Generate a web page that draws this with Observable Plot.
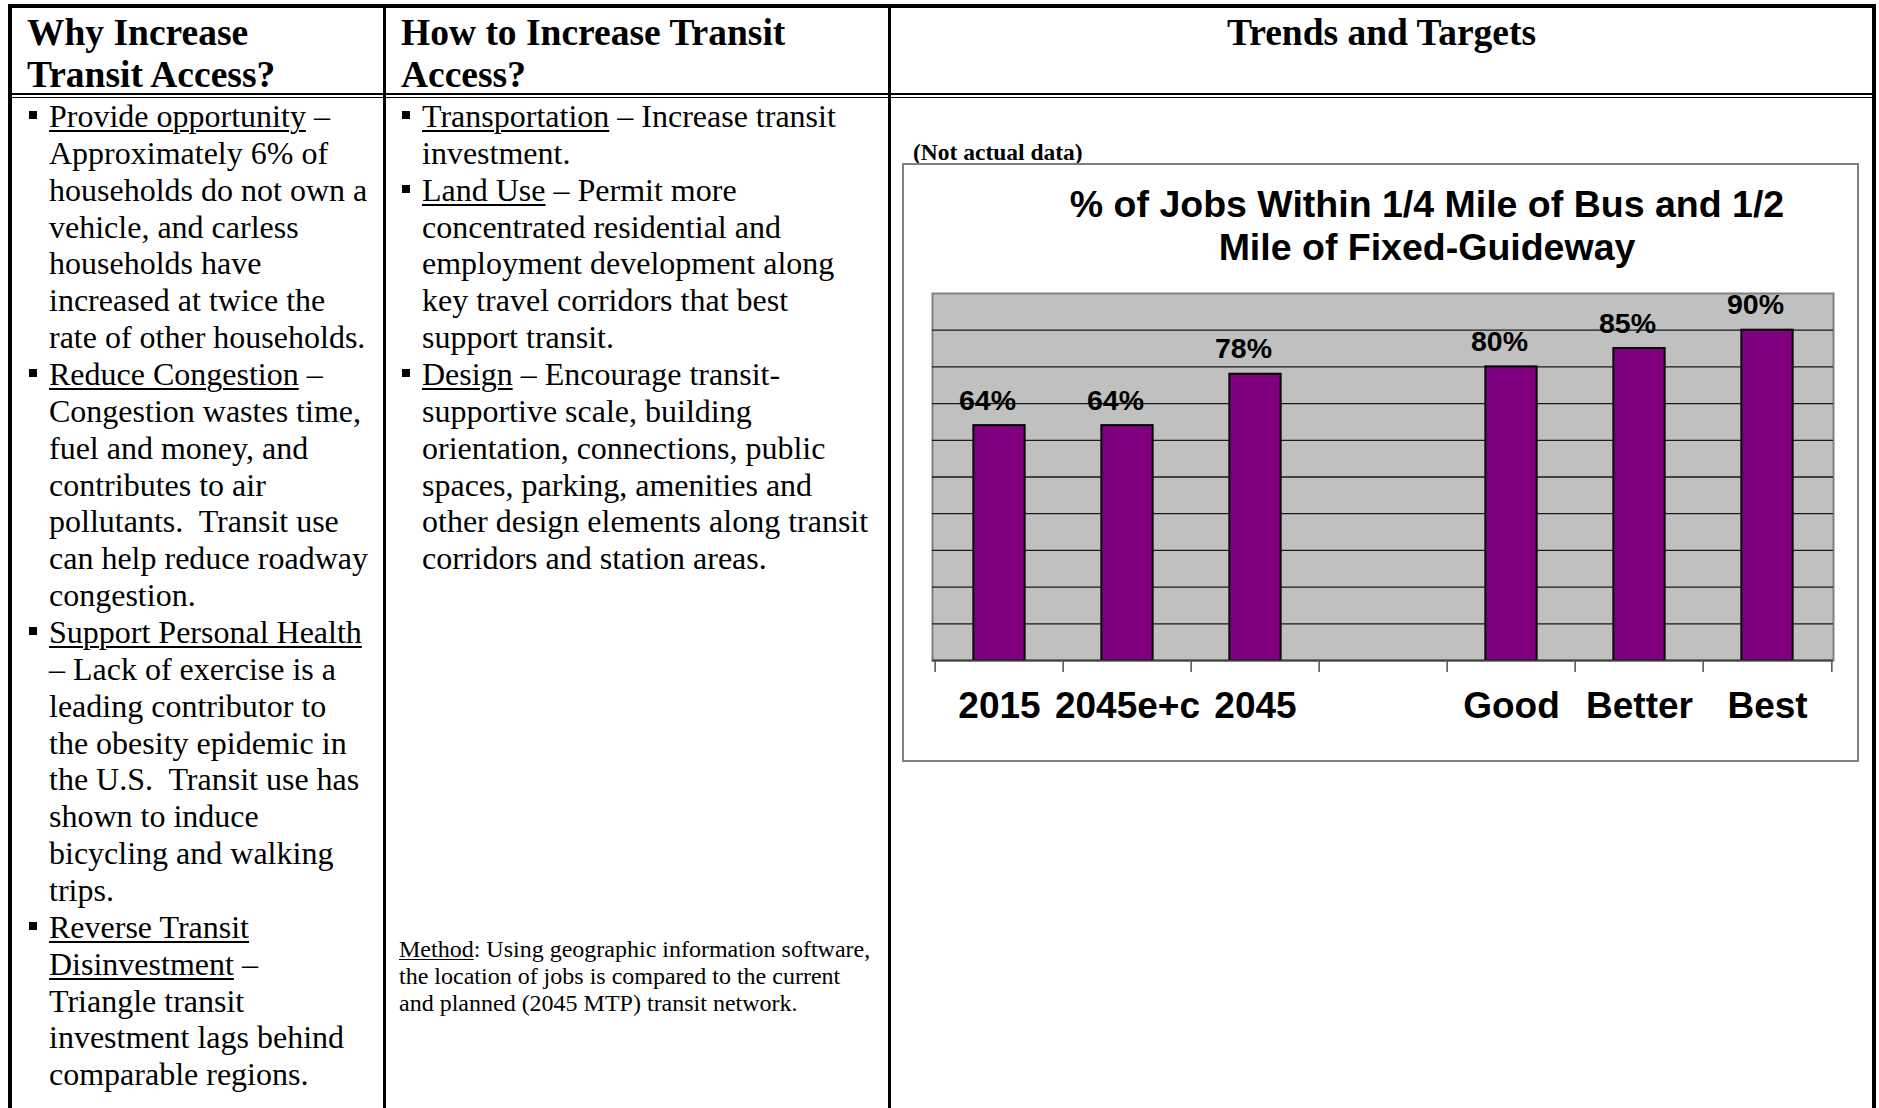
<!DOCTYPE html>
<html><head><meta charset="utf-8">
<script src="https://cdn.jsdelivr.net/npm/d3@7"></script>
<script src="https://cdn.jsdelivr.net/npm/@observablehq/plot@0.6"></script>
<style>
html,body{margin:0;padding:0;background:#fff;}
#page{position:relative;width:1879px;height:1108px;overflow:hidden;font-family:"Liberation Serif","Times New Roman",serif;color:#000;}
.rule{position:absolute;background:#000;}
.hdr{position:absolute;font-weight:bold;font-size:37.5px;line-height:42px;white-space:pre;}
.col{position:absolute;font-size:32px;line-height:36.86px;}
.col .ln{position:relative;height:36.86px;white-space:pre;}
.b{position:absolute;width:8px;height:8px;background:#000;top:13px;left:-20px;}
u{text-decoration:underline;text-decoration-thickness:1.6px;text-underline-offset:3px;}
#method{position:absolute;left:399px;top:935.5px;font-size:24px;line-height:27px;white-space:pre;}
#method u{text-decoration-thickness:1.2px;text-underline-offset:2px;}
#nad{position:absolute;left:913px;top:138.5px;font-size:23.5px;line-height:27px;font-weight:bold;white-space:pre;}
#box{position:absolute;left:902px;top:163px;width:957px;height:599px;border:2px solid #808080;box-sizing:border-box;}
#ctitle{position:absolute;left:1027px;width:800px;top:183px;text-align:center;font-family:"Liberation Sans",Arial,sans-serif;font-weight:bold;font-size:37.5px;line-height:43px;white-space:pre;}
#chart{position:absolute;left:904px;top:275px;}
</style>
</head><body>
<div id="page">
  <div class="rule" style="left:8px;top:4px;width:1868px;height:3.5px"></div>
  <div class="rule" style="left:8px;top:4px;width:4px;height:1110px"></div>
  <div class="rule" style="left:1872px;top:4px;width:4px;height:1110px"></div>
  <div class="rule" style="left:383px;top:4px;width:2.7px;height:1110px"></div>
  <div class="rule" style="left:888px;top:4px;width:2.7px;height:1110px"></div>
  <div class="rule" style="left:8px;top:93px;width:1868px;height:1.7px"></div>
  <div class="rule" style="left:8px;top:96.5px;width:1868px;height:1.7px"></div>

  <div class="hdr" style="left:27px;top:11.8px">Why Increase
Transit Access?</div>
  <div class="hdr" style="left:401px;top:11.8px">How to Increase Transit
Access?</div>
  <div class="hdr" style="left:890px;width:983px;top:11.8px;text-align:center">Trends and Targets</div>

  <div class="col" style="left:49px;top:98px"><div class="ln"><span class="b"></span><u>Provide opportunity</u> –</div><div class="ln">Approximately 6% of</div><div class="ln">households do not own a</div><div class="ln">vehicle, and carless</div><div class="ln">households have</div><div class="ln">increased at twice the</div><div class="ln">rate of other households.</div><div class="ln"><span class="b"></span><u>Reduce Congestion</u> –</div><div class="ln">Congestion wastes time,</div><div class="ln">fuel and money, and</div><div class="ln">contributes to air</div><div class="ln">pollutants.  Transit use</div><div class="ln">can help reduce roadway</div><div class="ln">congestion.</div><div class="ln"><span class="b"></span><u>Support Personal Health</u></div><div class="ln">– Lack of exercise is a</div><div class="ln">leading contributor to</div><div class="ln">the obesity epidemic in</div><div class="ln">the U.S.  Transit use has</div><div class="ln">shown to induce</div><div class="ln">bicycling and walking</div><div class="ln">trips.</div><div class="ln"><span class="b"></span><u>Reverse Transit</u></div><div class="ln"><u>Disinvestment</u> –</div><div class="ln">Triangle transit</div><div class="ln">investment lags behind</div><div class="ln">comparable regions.</div></div>

  <div class="col" style="left:422px;top:98px"><div class="ln"><span class="b"></span><u>Transportation</u> – Increase transit</div><div class="ln">investment.</div><div class="ln"><span class="b"></span><u>Land Use</u> – Permit more</div><div class="ln">concentrated residential and</div><div class="ln">employment development along</div><div class="ln">key travel corridors that best</div><div class="ln">support transit.</div><div class="ln"><span class="b"></span><u>Design</u> – Encourage transit-</div><div class="ln">supportive scale, building</div><div class="ln">orientation, connections, public</div><div class="ln">spaces, parking, amenities and</div><div class="ln">other design elements along transit</div><div class="ln">corridors and station areas.</div></div>

  <div id="method"><u>Method</u>: Using geographic information software,
the location of jobs is compared to the current
and planned (2045 MTP) transit network.</div>

  <div id="nad">(Not actual data)</div>
  <div id="box"></div>
  <div id="ctitle">% of Jobs Within 1/4 Mile of Bus and 1/2
Mile of Fixed-Guideway</div>
  <div id="chart"></div>
</div>
<script>
const categories = ["2015", "2045e+c", "2045", "", "Good", "Better", "Best"];
const values = [64, 64, 78, null, 80, 85, 90];
const yTicks = [10, 20, 30, 40, 50, 60, 70, 80, 90];

const bars = categories.map((c, i) => ({category: c, value: values[i]})).filter(d => d.value != null);

const W = 950, H = 470, mt = 18, mr = 21, mb = 85, ml = 28;
const plotH = H - mt - mb;
const bw = (W - ml - mr) / categories.length;
const barW = 52;
const inset = (bw - barW) / 2;

const chart = Plot.plot({
  width: W, height: H,
  marginTop: mt, marginRight: mr, marginBottom: mb, marginLeft: ml,
  x: {domain: categories, padding: 0, axis: null},
  y: {domain: [0, 100], axis: null},
  style: {fontFamily: "'Liberation Sans', Arial, sans-serif", overflow: "visible", background: "transparent", color: "#000"},
  marks: [
    Plot.frame({fill: "#C0C0C0", stroke: "#808080", strokeWidth: 2}),
    Plot.ruleY(yTicks, {stroke: "#1a1a1a", strokeWidth: 1.3}),
    Plot.barY(bars, {x: "category", y: "value", fill: "#800080", stroke: "#000", strokeWidth: 2, insetLeft: inset, insetRight: inset}),
    Plot.ruleY([0], {stroke: "#404040", strokeWidth: 2}),
    Plot.ruleX(categories, {x: d => d, dx: -bw / 2, insetTop: plotH, insetBottom: -12, stroke: "#505050", strokeWidth: 1.5}),
    Plot.ruleX([categories[categories.length - 1]], {x: d => d, dx: bw / 2, insetTop: plotH, insetBottom: -12, stroke: "#505050", strokeWidth: 1.5}),
    Plot.text(bars, {x: "category", y: "value", text: d => d.value + "%", dx: -12, dy: -25, fontSize: 28.5, fontWeight: "bold", fill: "#000", lineAnchor: "middle"}),
    Plot.axisX({tickSize: 0, tickPadding: 31, fontSize: 37, fontWeight: "bold", fill: "#000", label: null})
  ]
});
document.getElementById("chart").appendChild(chart);
</script>
</body></html>
